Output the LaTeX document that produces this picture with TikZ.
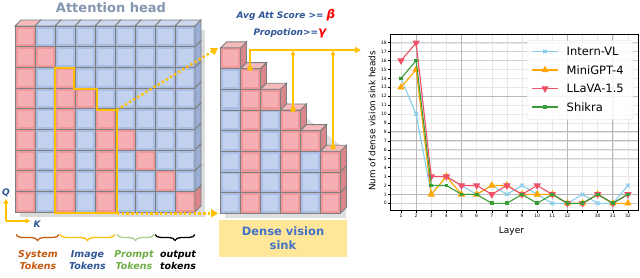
\documentclass[tikz,border=0pt]{standalone}
\usepackage{fontspec}
\setmainfont{DejaVu Sans}
\usetikzlibrary{arrows.meta,decorations.pathreplacing,plotmarks}
\definecolor{BF}{HTML}{AABDE2}
\definecolor{BI}{HTML}{C2D2EE}
\definecolor{BT}{HTML}{CBD8F0}
\definecolor{BS}{HTML}{9AAED6}
\definecolor{PF}{HTML}{EE989C}
\definecolor{PI}{HTML}{F6B0B3}
\definecolor{PT}{HTML}{F6BABC}
\definecolor{PS}{HTML}{DA878B}
\definecolor{cellc}{HTML}{7F7F7F}
\definecolor{gold}{HTML}{FFC000}
\definecolor{dblue}{HTML}{2F5597}
\definecolor{mblue}{HTML}{4472C4}
\definecolor{ttl}{HTML}{8497B0}
\definecolor{sysc}{HTML}{C55A11}
\definecolor{prc}{HTML}{A9D18E}
\definecolor{prt}{HTML}{70AD47}
\definecolor{sinkbg}{HTML}{FFE699}
\definecolor{cInt}{HTML}{87CEEB}
\definecolor{cMini}{HTML}{FFA500}
\definecolor{cLla}{HTML}{F0506A}
\definecolor{cShi}{HTML}{3A9D3A}
\newcommand{\mycube}[4]{%
 \fill[fill=#3] (#1,#2) rectangle ++(20,20.67);
 \fill[fill=#4] ({#1+2.5},{#2+2.5}) rectangle ++(15,15.67);
 \draw[cellb] (#1,#2) rectangle ++(20,20.67);}
\begin{document}
\begin{tikzpicture}[x=1pt,y=-1pt,
  cellb/.style={draw=cellc,line width=0.9pt},
  goldline/.style={draw=gold,line width=2.2pt},
  dotarrow/.style={draw=gold,line width=2.4pt,dash pattern=on 2.4pt off 2.4pt,-{Triangle[length=7pt,width=8pt]}},
  tokl/.style={font=\fontsize{9.5}{12}\selectfont\bfseries\itshape,align=center,inner sep=0pt},
  bracestyle/.style={decorate,decoration={brace,mirror,amplitude=6pt},line width=1.3pt},
  ticklab/.style={font=\fontsize{4.5}{5}\selectfont,inner sep=0pt},
  gridlight/.style={draw=gray!18,line width=0.4pt},
  gridmed/.style={draw=gray!38,line width=0.7pt},
  griddark/.style={draw=gray!55,line width=1pt},
  series/.style={line width=1.1pt,mark options={solid}}]
\useasboundingbox[fill=white] (0,0) rectangle (640,277);

% ---------- left: attention head ----------
\node[font=\fontsize{13}{15}\selectfont\bfseries,text=ttl] (title) at (111,7.5) {Attention head};
\fill[black!30,opacity=0.45] (20,30) rectangle (205,217);
\foreach \r in {1,...,9}{\foreach \c in {1,...,9}{
  \pgfmathsetmacro\xx{15+20*(\c-1)}
  \pgfmathsetmacro\yy{26+20.67*(\r-1)}
  \mycube{\xx}{\yy}{BF}{BI}}}
\foreach \r/\c in {1/1,2/1,3/1,4/1,5/1,6/1,7/1,8/1,9/1,2/2,3/3,4/3,5/3,6/3,7/3,8/3,9/3,4/4,5/5,6/5,7/5,8/5,9/5,6/6,7/7,8/8,9/9}{
  \pgfmathsetmacro\xx{15+20*(\c-1)}
  \pgfmathsetmacro\yy{26+20.67*(\r-1)}
  \mycube{\xx}{\yy}{PF}{PI}}
\foreach \c in {1,...,9}{
  \pgfmathsetmacro\xx{15+20*(\c-1)}
  \ifnum\c=1 \def\tcol{PT}\else\def\tcol{BT}\fi
  \filldraw[fill=\tcol,cellb] (\xx,26) -- ++(20,0) -- ++(6,-6) -- ++(-20,0) -- cycle;}
\foreach \r in {1,...,9}{
  \pgfmathsetmacro\yy{26+20.67*(\r-1)}
  \ifnum\r=9 \def\scol{PS}\else\def\scol{BS}\fi
  \filldraw[fill=\scol,cellb] (195,\yy) -- ++(6,-6) -- ++(0,20.67) -- ++(-6,6) -- cycle;}

% yellow outline
\coordinate (o1) at (55,68.3);
\coordinate (o2) at (74,68.3);
\coordinate (o3) at (74,89.3);
\coordinate (o4) at (96.7,89.3);
\coordinate (o5) at (96.7,110);
\coordinate (o6) at (116.7,110);
\coordinate (o7) at (116.7,213.3);
\coordinate (o8) at (55,213.3);
\draw[goldline,line join=miter] (o1) -- (o2) -- (o3) -- (o4) -- (o5) -- (o6) -- (o7) -- (o8) -- cycle;

% Q / K axes
\coordinate (qk) at (6,221);
\coordinate (qtop) at (6,199);
\coordinate (kend) at (30,221);
\draw[draw=gold,line width=1.6pt,-{Triangle[length=4.5pt,width=5pt]}] (qk) -- (qtop);
\draw[draw=gold,line width=1.6pt,-{Triangle[length=4.5pt,width=5pt]}] (qk) -- (kend);
\node[font=\fontsize{9}{10}\selectfont\bfseries\itshape,text=dblue] (qlab) at (6,192.5) {Q};
\node[font=\fontsize{9}{10}\selectfont\bfseries\itshape,text=dblue] (klab) at (37,224) {K};

% braces
\coordinate (s1) at (16,234.5); \coordinate (s2) at (59,234.5);
\coordinate (i1) at (60,234.5); \coordinate (i2) at (115,234.5);
\coordinate (p1) at (117,234.5); \coordinate (p2) at (154,234.5);
\coordinate (t1) at (155,234.5); \coordinate (t2) at (195,234.5);
\draw[bracestyle,draw=sysc] (s1) -- (s2);
\draw[bracestyle,draw=gold] (i1) -- (i2);
\draw[bracestyle,draw=prc] (p1) -- (p2);
\draw[bracestyle,draw=black] (t1) -- (t2);
\node[tokl,text=sysc] (sys) at (38,260) {System\\Tokens};
\node[tokl,text=dblue] (img) at (87.5,260) {Image\\Tokens};
\node[tokl,text=prt] (prm) at (134,260) {Prompt\\Tokens};
\node[tokl,text=black] (outt) at (178,260) {output\\tokens};

% ---------- middle: dense vision sink ----------
\fill[black!30,opacity=0.4] (225,52) -- (346,150) -- (346,218) -- (225,218) -- cycle;
\foreach \c in {1,...,6}{
  \pgfmathtruncatemacro\nn{9-\c}
  \pgfmathsetmacro\xx{220.5+20*(\c-1)}
  \pgfmathsetmacro\ttop{213.3-\nn*20.67}
  \foreach \k in {1,...,\nn}{
    \pgfmathsetmacro\yy{\ttop+(\k-1)*20.67}
    \pgfmathtruncatemacro\isP{or(mod(\c,2)==0,\k==1)}
    \ifnum\isP=1
      \mycube{\xx}{\yy}{PF}{PI}
      \filldraw[fill=PS,cellb] ({\xx+20},\yy) -- ++(6,-6) -- ++(0,20.67) -- ++(-6,6) -- cycle;
    \else
      \mycube{\xx}{\yy}{BF}{BI}
      \filldraw[fill=BS,cellb] ({\xx+20},\yy) -- ++(6,-6) -- ++(0,20.67) -- ++(-6,6) -- cycle;
    \fi}
  \filldraw[fill=PT,cellb] (\xx,\ttop) -- ++(20,0) -- ++(6,-6) -- ++(-20,0) -- cycle;}

% dotted arrows from attention head to sink
\coordinate (a1) at (218,48);
\coordinate (a2) at (218,213.3);
\draw[dotarrow] (o6) -- (a1);
\draw[dotarrow] (o7) -- (a2);

% yellow threshold lines
\coordinate (d1) at (250,68.4);
\coordinate (d2) at (293,109.5);
\coordinate (d3) at (333,147);
\coordinate (cn) at (250,50);
\coordinate (u2) at (293,50);
\coordinate (u3) at (333,50);
\coordinate (rend) at (361,50);
\draw[draw=gold,line width=1.8pt,-{Triangle[length=6pt,width=6pt]}] (d1) -- (cn) -- (rend);
\draw[draw=gold,line width=1.8pt,-{Latex[length=5pt,width=5pt]}] (d2) -- (u2);
\draw[draw=gold,line width=1.8pt,-{Latex[length=5pt,width=5pt]}] (d3) -- (u3);
\fill[gold] (d1) circle (2.7);
\fill[gold] (d2) circle (2.7);
\fill[gold] (d3) circle (2.7);
\node[font=\fontsize{9}{10}\selectfont\bfseries\itshape,text=dblue] (avg) at (286,15.5) {Avg Att Score >= {\color{red}\fontsize{12}{12}\selectfont β}};
\node[font=\fontsize{9}{10}\selectfont\bfseries\itshape,text=dblue] (prop) at (290,33) {Propotion>={\color{red}\fontsize{12}{12}\selectfont γ}};

\node[fill=sinkbg,minimum width=127.7pt,minimum height=36.7pt,inner sep=0pt,
  font=\fontsize{11.5}{14}\selectfont\bfseries,text=mblue,align=center] (sink) at (283,238.3) {Dense vision\\sink};

% ---------- right: chart ----------
\begin{scope}[shift={(401,203.3)},x=15.13pt,y=8.92pt]
  \foreach \v in {0,...,18}{\draw[gridlight] (-0.727,\v) -- (15.70,\v);}
  \foreach \i in {0,...,15}{\draw[gridlight] (\i,-0.83) -- (\i,18.95);}
  \foreach \v in {0,5,6,16,17,18}{\draw[gridmed] (-0.727,\v) -- (15.70,\v);}
  \foreach \v in {1,7,8,12}{\draw[griddark] (-0.727,\v) -- (15.70,\v);}
  \foreach \i in {1,4,11,14}{\draw[griddark] (\i,-0.83) -- (\i,18.95);}
  \foreach \v in {0,...,18}{
    \draw[line width=0.5pt] (-0.727,\v) -- ++(-1.8pt,0);
    \node[ticklab,anchor=east,xshift=-3pt] (yl\v) at (-0.727,\v) {\v};}
  \foreach \i in {0,...,15}{\draw[line width=0.5pt] (\i,-0.83) -- ++(0,-1.8pt);}
  \foreach \i/\l in {0/1,1/2,2/3,3/4,4/5,5/6,6/7,7/8,8/9,9/10,10/11,11/12,13/30,14/31,15/32}{
    \node[ticklab,anchor=north,yshift=-3.5pt] (xl\i) at (\i,-0.83) {\l};}
  \draw[series,cInt,mark=x,mark size=2.6pt] plot coordinates {(0,14)(1,10)(2,1)(3,3)(4,2)(5,1)(6,2)(7,1)(8,2)(9,1)(10,0)(11,0)(12,1)(13,0)(14,0)(15,2)};
  \draw[series,cMini,mark=triangle*,mark size=3.2pt] plot coordinates {(0,13)(1,15)(2,1)(3,3)(4,1)(5,1)(6,2)(7,2)(8,1)(9,1)(10,1)(11,0)(12,0)(13,1)(14,0)(15,0)};
  \draw[series,cLla,mark=triangle*,mark size=3.2pt,mark options={rotate=180}] plot coordinates {(0,16)(1,18)(2,3)(3,3)(4,2)(5,2)(6,1)(7,2)(8,1)(9,2)(10,1)(11,0)(12,0)(13,1)(14,0)(15,1)};
  \draw[series,cShi,mark=square*,mark size=1.3pt] plot coordinates {(0,14)(1,16)(2,2)(3,2)(4,1)(5,1)(6,0)(7,0)(8,1)(9,0)(10,1)(11,0)(12,0)(13,1)(14,0)(15,1)};
  \draw[line width=1pt] (-0.727,-0.83) rectangle (15.70,18.95);
\end{scope}
\node[rotate=90,font=\fontsize{8.8}{10}\selectfont] (ylab) at (372,121) {Num of dense vision sink heads};
\node[font=\fontsize{9}{10}\selectfont] (xlab) at (511.5,231.5) {Layer};

% legend
\draw[draw=gray!30,fill=white,fill opacity=0.85,rounded corners=2pt] (527,40.5) rectangle (633,119.5);
\draw[series,cInt,mark=x,mark size=2.6pt,mark indices={2}] plot coordinates {(532,51.5)(545,51.5)(558,51.5)};
\draw[series,cMini,mark=triangle*,mark size=3.2pt,mark indices={2}] plot coordinates {(532,70)(545,70)(558,70)};
\draw[series,cLla,mark=triangle*,mark size=3.2pt,mark indices={2},mark options={rotate=180}] plot coordinates {(532,88.5)(545,88.5)(558,88.5)};
\draw[series,cShi,mark=square*,mark size=1.3pt,mark indices={2}] plot coordinates {(532,107)(545,107)(558,107)};
\node[anchor=west,font=\fontsize{11.5}{12}\selectfont,inner sep=0pt] (lg1) at (566.5,51.5) {Intern-VL};
\node[anchor=west,font=\fontsize{11.5}{12}\selectfont,inner sep=0pt] (lg2) at (566.5,70) {MiniGPT-4};
\node[anchor=west,font=\fontsize{11.5}{12}\selectfont,inner sep=0pt] (lg3) at (566.5,88.5) {LLaVA-1.5};
\node[anchor=west,font=\fontsize{11.5}{12}\selectfont,inner sep=0pt] (lg4) at (566.5,107) {Shikra};
\end{tikzpicture}
\end{document}
